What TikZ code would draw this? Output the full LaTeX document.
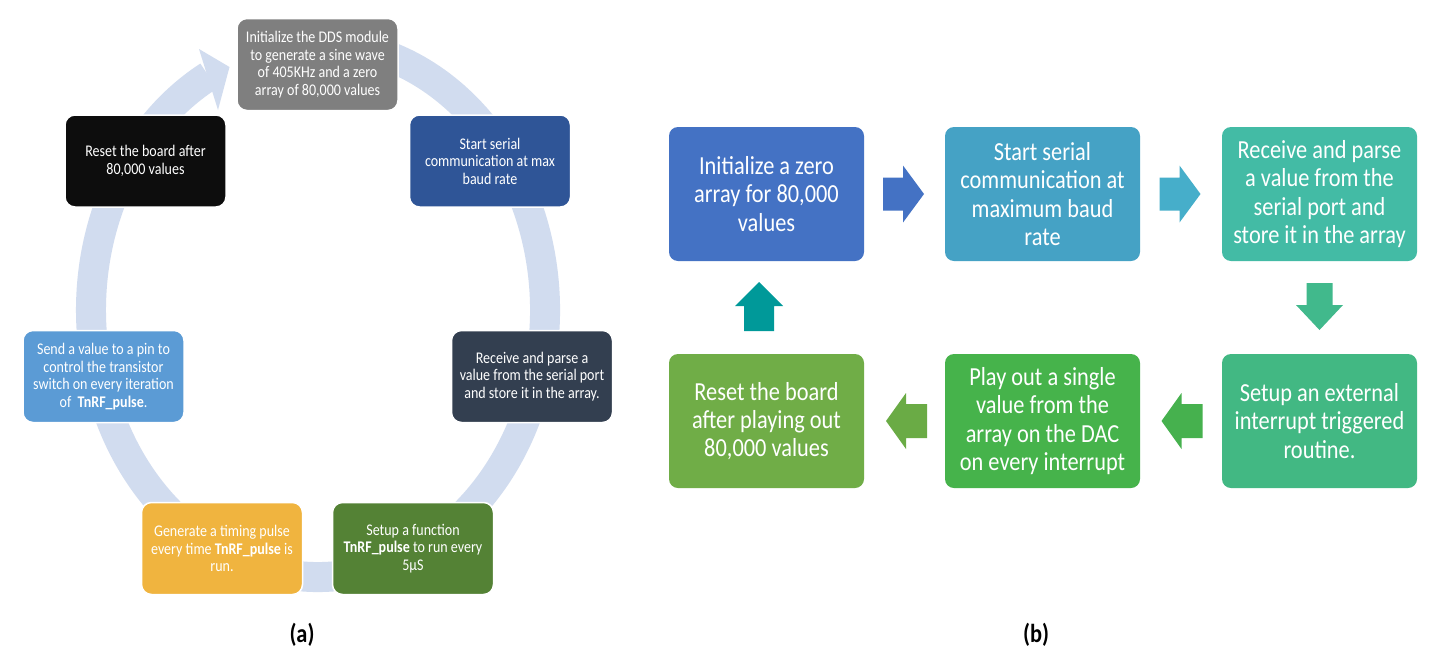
\documentclass[tikz,border=0pt]{standalone}
\usepackage{fontspec}
\setmainfont{Carlito}[FakeStretch=0.86]
\usetikzlibrary{calc}
\definecolor{ringc}{HTML}{D1DCEF}
\definecolor{cgray}{HTML}{7F7F7F}
\definecolor{cblack}{HTML}{0D0D0D}
\definecolor{cdblue}{HTML}{2F5597}
\definecolor{cslate}{HTML}{333F50}
\definecolor{clblue}{HTML}{5B9BD5}
\definecolor{cyellow}{HTML}{F0B43F}
\definecolor{cgreen}{HTML}{548235}
\definecolor{rone}{HTML}{4472C4}
\definecolor{rtwo}{HTML}{45A2C5}
\definecolor{rthree}{HTML}{43BBA5}
\definecolor{rfour}{HTML}{42B883}
\definecolor{rfive}{HTML}{46B34B}
\definecolor{rsix}{HTML}{70AD47}
\definecolor{aone}{HTML}{4472C4}
\definecolor{atwo}{HTML}{46AECA}
\definecolor{athree}{HTML}{41B98C}
\definecolor{afour}{HTML}{46B14E}
\definecolor{afive}{HTML}{6AAB45}
\definecolor{asix}{HTML}{009999}
\newcommand\myblockarrow[7]{%
  \fill[#1, shift={#2}, rotate=#3] (-#4/2,-#6) -- (#4/2-#5,-#6) -- (#4/2-#5,-#7) -- (#4/2,0)
     -- (#4/2-#5,#7) -- (#4/2-#5,#6) -- (-#4/2,#6) -- cycle;}
\begin{document}
\begin{tikzpicture}[x=1pt,y=-1pt,
  lbox/.style={rectangle, rounded corners=10pt, draw=white, line width=1.5pt,
    minimum width=161pt, minimum height=92pt, inner sep=0pt, text=white,
    align=center, font=\fontsize{16.3}{17.6}\selectfont},
  rbox/.style={rectangle, rounded corners=9pt, minimum width=195pt,
    minimum height=134pt, inner sep=0pt, text=white, align=center,
    font=\fontsize{26}{28.3}\selectfont},
  caption/.style={font=\bfseries\fontsize{26}{28}\selectfont, text=black}]
\useasboundingbox (0,0) rectangle (1441,662);
\fill[white] (0,0) rectangle (1441,662);
% ---- (a) ring ----
\draw[ringc, line width=30pt] ($(318,310)+(255:227 and 267)$)
   arc[start angle=255, end angle=601.2, x radius=227, y radius=267];
\fill[ringc] (199,49) -- (229.5,67) -- (218,110) -- cycle;
% ---- (a) boxes ----
\node[lbox, fill=cgray] (g) at (317.5,64.5) {Initialize the DDS module\\to generate a sine wave\\of 405KHz and a zero\\array of 80,000 values};
\node[lbox, fill=cblack] (k) at (145.5,161) {Reset the board after\\80,000 values};
\node[lbox, fill=cdblue] (s) at (490,161) {Start serial\\communication at max\\baud rate};
\node[lbox, fill=cslate] (v) at (532,376.5) {Receive and parse a\\value from the serial port\\and store it in the array.};
\node[lbox, fill=clblue] (p) at (103.5,376.5) {Send a value to a pin to\\control the transistor\\switch on every iteration\\of\ \ \textbf{TnRF\_pulse}.};
\node[lbox, fill=cyellow] (y) at (222,548.5) {Generate a timing pulse\\every time \textbf{TnRF\_pulse} is\\run.};
\node[lbox, fill=cgreen] (f) at (413,548.5) {Setup a function\\\textbf{TnRF\_pulse} to run every\\5µS};
\node[caption] (la) at (302,635) {(a)};
% ---- (b) boxes ----
\node[rbox, fill=rone] (r1) at (766.5,194) {Initialize a zero\\array for 80,000\\values};
\node[rbox, fill=rtwo] (r2) at (1042.5,194) {Start serial\\communication at\\maximum baud\\rate};
\node[rbox, fill=rthree] (r3) at (1319.5,194) {Receive and parse\\a value from the\\serial port and\\store it in the array};
\node[rbox, fill=rfour] (r4) at (1319.5,421) {Setup an external\\interrupt triggered\\routine.};
\node[rbox, fill=rfive] (r5) at (1042.5,421) {Play out a single\\value from the\\array on the DAC\\on every interrupt};
\node[rbox, fill=rsix] (r6) at (766.5,421) {Reset the board\\after playing out\\80,000 values};
\node[caption] (lb) at (1036,635) {(b)};
% ---- (b) block arrows ----
\myblockarrow{aone}{($(r1.east)!0.5!(r2.west)+(-1,0)$)}{0}{41}{21}{16.5}{28.5}
\myblockarrow{atwo}{($(r2.east)!0.5!(r3.west)+(-1,0)$)}{0}{41}{21}{16.5}{28.5}
\myblockarrow{athree}{($(r3.south)!0.5!(r4.north)+(0,-1)$)}{-90}{47}{25}{13}{23.5}
\myblockarrow{afour}{($(r4.west)!0.5!(r5.east)+(1,0)$)}{180}{41}{20}{17}{28}
\myblockarrow{afive}{($(r5.west)!0.5!(r6.east)+(2,0)$)}{180}{41}{20}{17}{28}
\myblockarrow{asix}{($(r6.north)!0.5!(r1.south)+(-7.5,-1)$)}{90}{49}{24}{15}{24}
\end{tikzpicture}
\end{document}
